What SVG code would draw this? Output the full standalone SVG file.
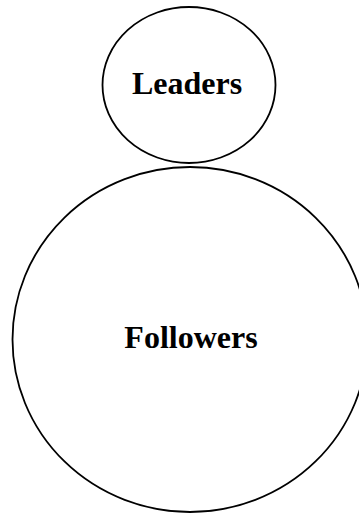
<svg xmlns="http://www.w3.org/2000/svg" width="359" height="514" viewBox="0 0 359 514">
<style>
.node{fill:#ffffff;stroke:#000000;stroke-width:1.8}
.lbl{font-family:"Liberation Serif","Times New Roman",serif;font-weight:bold;font-size:32px;fill:#000000;text-anchor:middle}
</style>
<rect width="359" height="514" fill="#ffffff"/>
<g id="connectors"></g>
<g id="leaders">
<ellipse class="node" cx="189" cy="85" rx="86.5" ry="78"/>
<text class="lbl" x="187" y="94">Leaders</text>
</g>
<g id="followers">
<ellipse class="node" cx="190" cy="339.5" rx="177.5" ry="172.5"/>
<text class="lbl" x="191" y="348">Followers</text>
</g>
</svg>
